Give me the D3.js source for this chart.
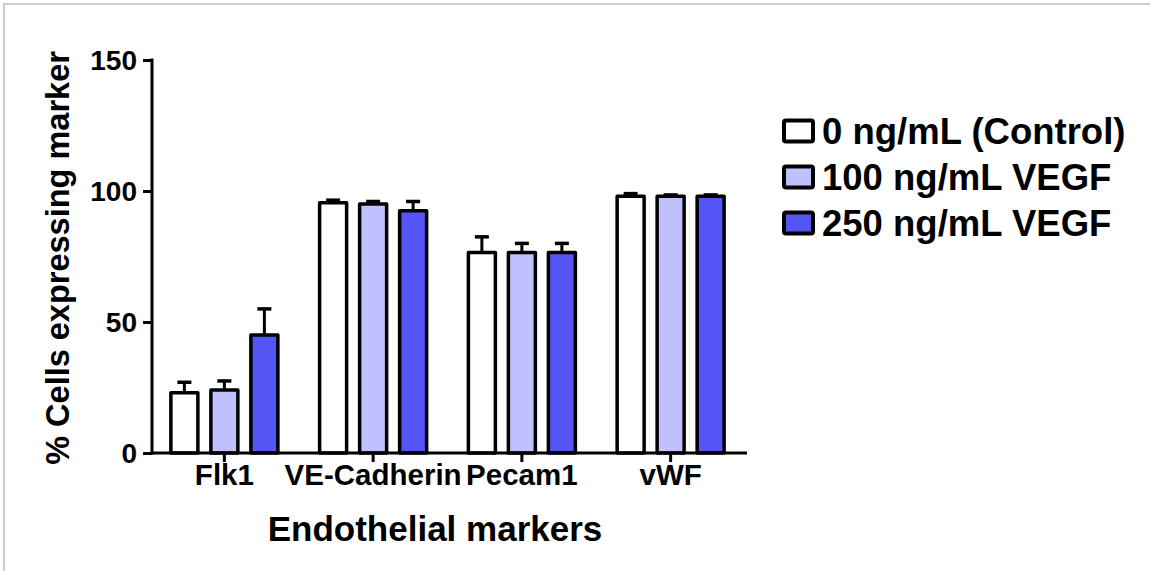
<!DOCTYPE html>
<html>
<head>
<meta charset="utf-8">
<script src="https://cdn.jsdelivr.net/npm/d3@7"></script>
<style>
  html, body { margin: 0; padding: 0; background: #fff; }
  svg { display: block; }
  text { font-family: "Liberation Sans", Arial, sans-serif; font-weight: bold; fill: #000; }
</style>
</head>
<body>
<svg id="chart" width="1150" height="571"></svg>
<script>
// Endothelial marker expression by VEGF dose
const markers = ["Flk1", "VE-Cadherin", "Pecam1", "vWF"];
const doses = ["0 ng/mL (Control)", "100 ng/mL VEGF", "250 ng/mL VEGF"];
const doseColors = ["#ffffff", "#c0c0ff", "#5555f5"];

// mean % cells expressing each marker, one array per dose
const control = [23, 95.5, 76.5, 98];
const vegf100 = [24, 95, 76.5, 98];
const vegf250 = [45, 92.5, 76.5, 98];
// SEM for each mean
const controlErr = [4, 1, 6, 1];
const vegf100Err = [3.5, 1, 3.5, 0.5];
const vegf250Err = [10, 3.5, 3.5, 0.5];

const yTicks = [0, 50, 100, 150];

const means = [control, vegf100, vegf250];
const errs = [controlErr, vegf100Err, vegf250Err];

const svg = d3.select("#chart");

// light frame along the top and left edges
svg.append("path")
  .attr("d", "M4,571 V4 H1150")
  .attr("fill", "none")
  .attr("stroke", "#cccccc")
  .attr("stroke-width", 2);

const x0 = d3.scaleBand().domain(markers).range([150, 745]).paddingInner(0).paddingOuter(0);
const y = d3.scaleLinear().domain([0, 150]).range([453, 60]);

const plot = svg.append("g");

// bars
const groups = plot.selectAll("g.group")
  .data(markers)
  .join("g")
  .attr("class", "group")
  .attr("transform", d => `translate(${x0(d) + x0.bandwidth() / 2},0)`);

const cells = groups.selectAll("g.bar")
  .data((m, i) => doses.map((dose, k) => ({ k, v: means[k][i], e: errs[k][i] })))
  .join("g")
  .attr("class", "bar");

const bw = 40;
const barW = 27;

// error bars (upper only), drawn beneath the bar outline
cells.append("line")
  .attr("x1", d => (d.k - 1) * bw)
  .attr("x2", d => (d.k - 1) * bw)
  .attr("y1", d => y(d.v))
  .attr("y2", d => y(d.v + d.e))
  .attr("stroke", "#000")
  .attr("stroke-width", 3);
cells.append("line")
  .attr("x1", d => (d.k - 1) * bw - 7)
  .attr("x2", d => (d.k - 1) * bw + 7)
  .attr("y1", d => y(d.v + d.e))
  .attr("y2", d => y(d.v + d.e))
  .attr("stroke", "#000")
  .attr("stroke-width", 3.5);

cells.append("rect")
  .attr("x", d => (d.k - 1) * bw - barW / 2)
  .attr("width", barW)
  .attr("y", d => y(d.v))
  .attr("height", d => y(0) - y(d.v))
  .attr("fill", d => doseColors[d.k])
  .attr("stroke", "#000")
  .attr("stroke-width", 3.5)
  .attr("stroke-linejoin", "round");

// y axis
const yAxis = svg.append("g")
  .attr("transform", "translate(152,0)")
  .call(d3.axisLeft(y).tickValues(yTicks).tickSize(9).tickPadding(6).tickSizeOuter(0));
yAxis.select(".domain").attr("stroke-width", 3).attr("d", `M0,${y(150) - 1.5}V${y(0) + 1.5}`);
yAxis.selectAll(".tick line").attr("stroke-width", 3);
yAxis.selectAll(".tick text").style("font-size", "28px").attr("dy", "0.35em");

// x axis
const xAxis = svg.append("g")
  .attr("transform", `translate(0,${y(0)})`)
  .call(d3.axisBottom(x0).tickSize(9).tickPadding(3).tickSizeOuter(0));
xAxis.select(".domain").attr("stroke-width", 3).attr("d", "M150.5,0H747");
xAxis.selectAll(".tick line").attr("stroke-width", 3);
xAxis.selectAll(".tick text").style("font-size", "29.5px").attr("dy", "0.68em");

// axis titles
svg.append("text")
  .attr("x", 435)
  .attr("y", 541)
  .attr("text-anchor", "middle")
  .style("font-size", "35px")
  .text("Endothelial markers");

svg.append("text")
  .attr("transform", "translate(69,258) rotate(-90)")
  .attr("text-anchor", "middle")
  .style("font-size", "32.5px")
  .text("% Cells expressing marker");

// legend
const legend = svg.append("g").attr("transform", "translate(784,131)");
const rows = legend.selectAll("g")
  .data(doses)
  .join("g")
  .attr("transform", (d, i) => `translate(0,${i * 46})`);
rows.append("rect")
  .attr("x", 0).attr("y", -10.5)
  .attr("width", 29).attr("height", 21)
  .attr("rx", 2)
  .attr("fill", (d, i) => doseColors[i])
  .attr("stroke", "#000")
  .attr("stroke-width", 4);
rows.append("text")
  .attr("x", 38)
  .attr("dy", "0.36em")
  .style("font-size", "36.5px")
  .text(d => d);
</script>
</body>
</html>
